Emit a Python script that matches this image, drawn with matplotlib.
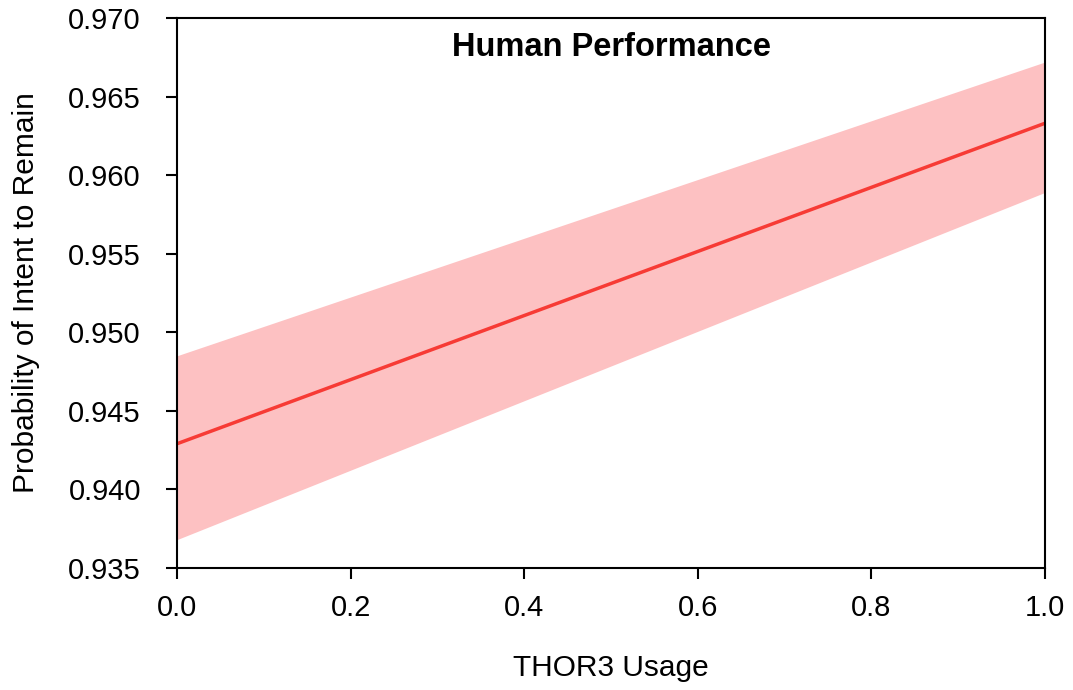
import matplotlib.pyplot as plt

plt.rcParams['font.family'] = ['Liberation Sans', 'DejaVu Sans']

# THOR3 usage vs predicted probability, with confidence band
usage = [0.0, 1.0]
prob = [0.9429, 0.9633]
ci_low = [0.9368, 0.9589]
ci_high = [0.9485, 0.9672]

xticks = [0.0, 0.2, 0.4, 0.6, 0.8, 1.0]
yticks = [0.935, 0.940, 0.945, 0.950, 0.955, 0.960, 0.965, 0.970]

fig = plt.figure(figsize=(10.73, 6.90), dpi=100)
ax = fig.add_axes([0.165, 0.177, 0.809, 0.797])

ax.fill_between(usage, ci_low, ci_high, color='#fdc1c2', linewidth=0)
ax.plot(usage, prob, color='#f73b35', linewidth=2.5)

ax.set_xlim(0, 1)
ax.set_ylim(0.935, 0.970)
ax.set_xticks(xticks)
ax.set_xticklabels([f"{t:.1f}" for t in xticks])
ax.set_yticks(yticks)
ax.set_yticklabels([f"{t:.3f}" for t in yticks])
ax.tick_params(direction='out', length=8, width=1.5, labelsize=21)
ax.tick_params(axis='x', pad=11)
ax.tick_params(axis='y', pad=18)
for s in ax.spines.values():
    s.set_linewidth(1.5)

ax.set_xlabel('THOR3 Usage', fontsize=21.5, labelpad=23)
ax.set_ylabel('Probability of Intent to Remain', fontsize=21.5, labelpad=20)
ax.set_title('Human Performance', fontsize=23.5, fontweight='bold', y=0.915)

fig.savefig('out.png', dpi=100)
